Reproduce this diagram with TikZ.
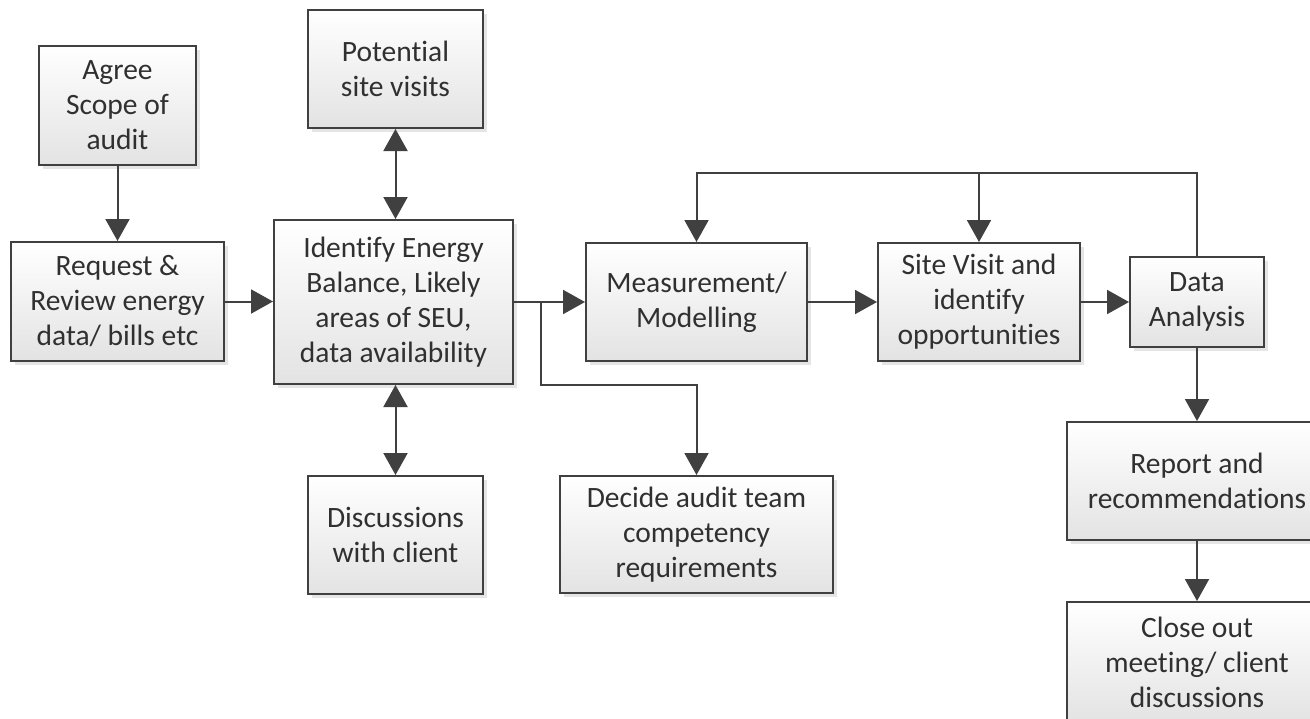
\documentclass[tikz,border=0pt]{standalone}
\usepackage{fontspec}
\setmainfont[Ligatures=NoCommon]{Carlito}
\usetikzlibrary{arrows.meta,shadows,calc}
\definecolor{ink}{HTML}{404040}
\definecolor{txt}{HTML}{303030}
\tikzset{
  box/.style={draw=ink, line width=2pt, top color=white, bottom color=black!11,
    drop shadow={shadow xshift=4pt, shadow yshift=-4pt, fill=black!25, opacity=0.4},
    inner sep=0pt, align=center, text=txt,
    font=\fontsize{29.5}{35}\selectfont},
  conn/.style={draw=ink, line width=2pt},
  arr/.style={conn, -{Triangle[length=22pt,width=24pt]}},
  darr/.style={conn, {Triangle[length=22pt,width=24pt]}-{Triangle[length=22pt,width=24pt]}},
}
\begin{document}
\begin{tikzpicture}[x=1pt,y=-1pt]
\useasboundingbox (0,0) rectangle (1310,718);
\clip (0,0) rectangle (1310,718);
\fill[white] (0,0) rectangle (1310,718);

\node[box, minimum width=157pt, minimum height=119pt] (agree) at (117.5,105.5) {Agree\\Scope of\\audit};
\node[box, minimum width=213pt, minimum height=119pt] (request) at (117.5,301.5) {Request \&\\Review energy\\data/ bills etc};
\node[box, minimum width=239pt, minimum height=164pt] (identify) at (393.5,302) {Identify Energy\\Balance, Likely\\areas of SEU,\\data availability};
\node[box, minimum width=175pt, minimum height=118pt] (potential) at (395.5,69) {Potential\\site visits};
\node[box, minimum width=175pt, minimum height=118pt] (discuss) at (395.5,535) {Discussions\\with client};
\node[box, minimum width=273pt, minimum height=117pt] (decide) at (696.5,534.5) {Decide audit team\\competency\\requirements};
\node[box, minimum width=221pt, minimum height=118pt] (measure) at (696.5,302) {Measurement/\\Modelling};
\node[box, minimum width=202pt, minimum height=118pt] (site) at (979,302) {Site Visit and\\identify\\opportunities};
\node[box, minimum width=134pt, minimum height=90pt] (data) at (1197,302) {Data\\Analysis};
\node[box, minimum width=260pt, minimum height=118pt] (report) at (1197,481) {Report and\\recommendations};
\node[box, minimum width=260pt, minimum height=120pt] (close) at (1197,662) {Close out\\meeting/ client\\discussions};

\coordinate (split) at (541,302);
\coordinate (splitlow) at (541,385);
\coordinate (topline) at (0,173);

\draw[arr] (agree.south) -- (request.north);
\draw[arr] (request.east) -- (request.east -| identify.west);
\draw[darr] (potential.south) -- (potential.south |- identify.north);
\draw[darr] (identify.south -| discuss.north) -- (discuss.north);
\draw[arr] (identify.east) -- (measure.west);
\draw[arr] (split) -- (splitlow) -| (decide.north);
\draw[arr] (measure.east) -- (site.west);
\draw[arr] (site.east) -- (data.west);
\draw[arr] (data.north) -- (data.north |- topline) -- (measure.north |- topline) -- (measure.north);
\draw[arr] (site.north |- topline) -- (site.north);
\draw[arr] (data.south) -- (report.north);
\draw[arr] (report.south) -- (close.north);
\end{tikzpicture}
\end{document}
